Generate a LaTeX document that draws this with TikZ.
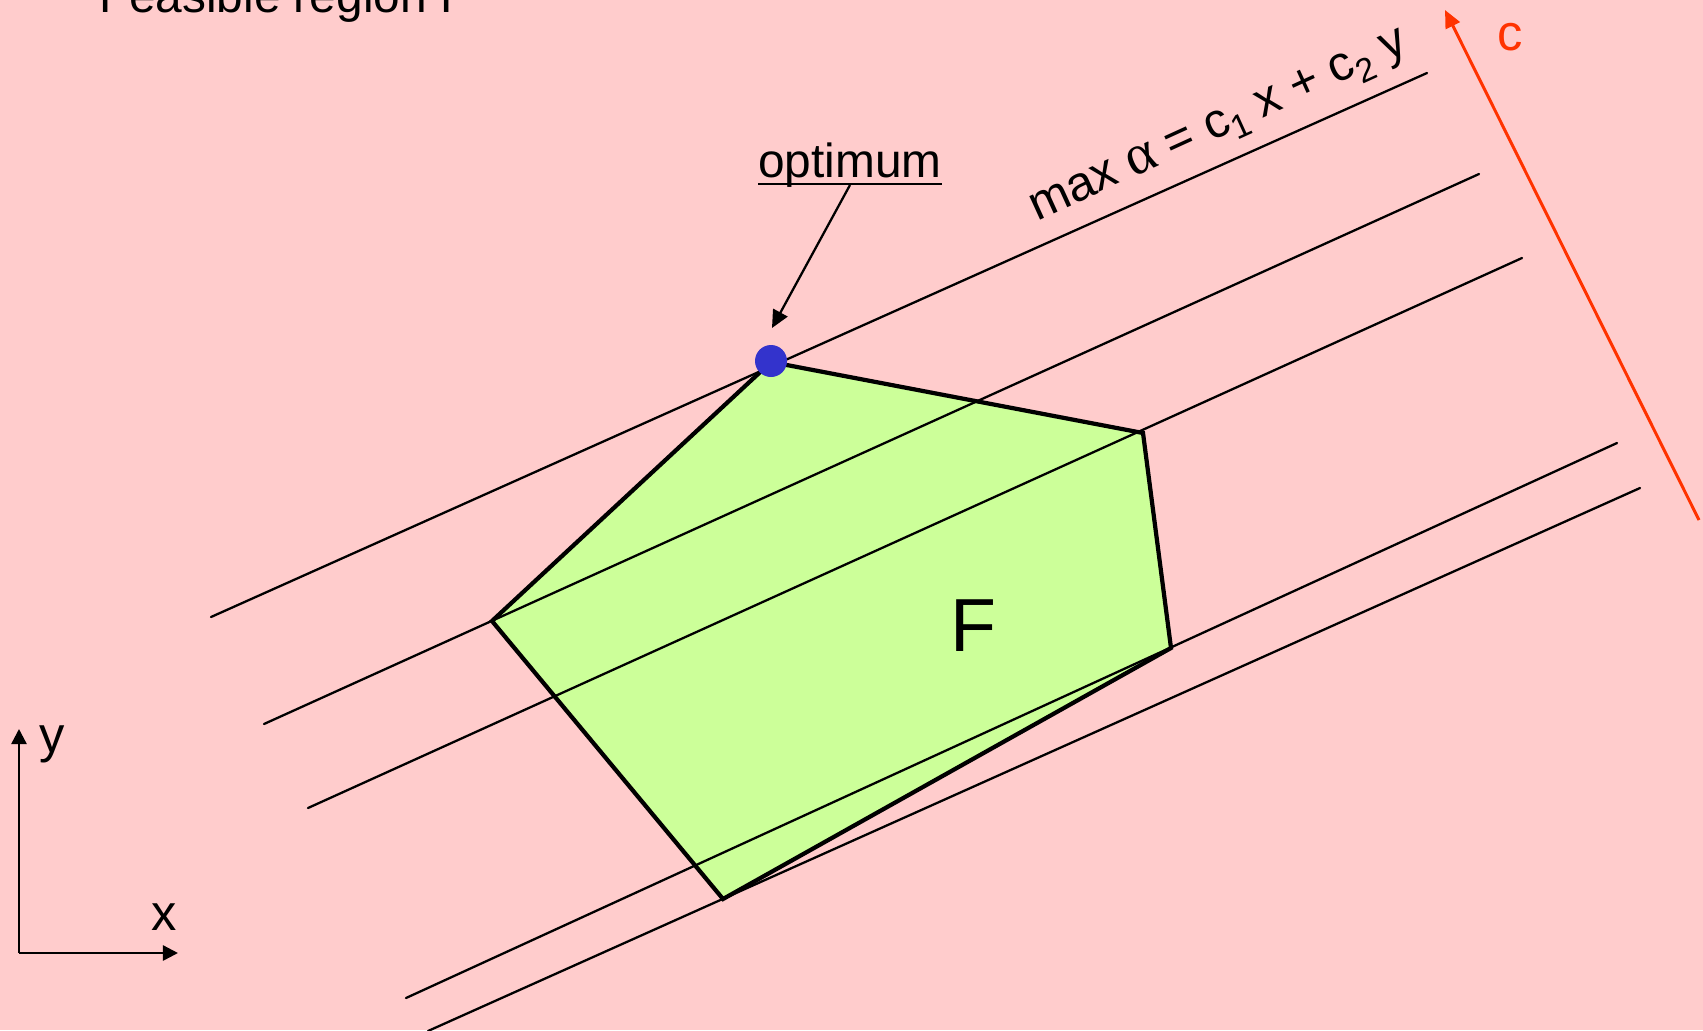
\documentclass[tikz,border=0pt]{standalone}
\usepackage{fontspec}
\setmainfont{Liberation Sans}
\newfontfamily\greekfont{Liberation Serif}
\usetikzlibrary{arrows.meta}
\definecolor{bgpink}{HTML}{FFCCCC}
\definecolor{feas}{HTML}{CCFF99}
\definecolor{optblue}{HTML}{3333CC}
\definecolor{cred}{HTML}{FF3300}
\newcommand{\lbl}{\fontsize{13.6pt}{16pt}\selectfont}
\newcommand{\objfont}{\fontsize{13.9pt}{17pt}\selectfont}
\newcommand{\subs}[1]{\raisebox{-0.4ex}{\fontsize{9.6pt}{10pt}\selectfont #1}}
\begin{document}
\begin{tikzpicture}[x=0.01cm,y=-0.01cm,
  level/.style={line width=0.65pt,line cap=round},
  border/.style={line width=1.2pt,line join=miter},
  axisarrow/.style={line width=0.7pt,-{Triangle[length=4.3pt,width=4.3pt]}},
  txt/.style={inner sep=0pt,outer sep=0pt,font=\lbl}]
\useasboundingbox (0,0) rectangle (1703,1030);
\clip (0,0) rectangle (1703,1030);
\fill[bgpink] (0,0) rectangle (1703,1030);

% title
\node[txt,anchor=base west] (title) at (100,12) {Feasible region F};

% polygon vertices
\coordinate (A) at (771,362);
\coordinate (B) at (1143,433);
\coordinate (C) at (1171,648);
\coordinate (D) at (723,899);
\coordinate (E) at (492,621);
\fill[feas] (A)--(B)--(C)--(D)--(E)--cycle;

% level lines
\coordinate (l1a) at (211,617);  \coordinate (l1b) at (1427,73);
\coordinate (l2a) at (264,724);  \coordinate (l2b) at (1479,174);
\coordinate (l3a) at (308,808);  \coordinate (l3b) at (1522,258);
\coordinate (l4a) at (406,998);  \coordinate (l4b) at (1617,443);
\coordinate (l5a) at (428,1031); \coordinate (l5b) at (1640,488);
\draw[level] (l1a) -- (l1b);
\draw[level] (l2a) -- (l2b);
\draw[level] (l3a) -- (l3b);
\draw[level] (l4a) -- (l4b);
\draw[level] (l5a) -- (l5b);

\draw[border] (A)--(B)--(C)--(D)--(E)--cycle;

% optimum point
\coordinate (dot) at (771,361);
\fill[optblue] (dot) circle[radius=16];

% F label
\node[txt,anchor=base west,font=\fontsize{21.4pt}{24pt}\selectfont] (F) at (950,651) {F};

% objective label
\node[txt,anchor=base west,rotate=24.5,font=\objfont] (obj) at (1037,221)
  {max {\greekfont\fontsize{16.2pt}{17pt}\selectfont α} = c\subs{1} x + c\subs{2} y};

% optimum label
\node[txt,anchor=base] (opt) at (850,177) {optimum};
\coordinate (ulL) at (758,184);
\coordinate (ulR) at (942,184);
\draw[line width=0.65pt] (ulL) -- (ulR);
\coordinate (optstart) at (850,185);
\coordinate (opttip) at (772,328);
\draw[line width=0.65pt,-{Triangle[length=5pt,width=4.6pt]}] (optstart) -- (opttip);

% c vector
\coordinate (cbase) at (1699,520);
\coordinate (ctip) at (1445,10);
\draw[cred,line width=0.85pt,-{Triangle[length=5pt,width=4.4pt]}] (cbase) -- (ctip);
\node[txt,anchor=base west,text=cred,font=\fontsize{14.4pt}{17pt}\selectfont] (clabel) at (1497,50) {c};

% axes
\coordinate (O) at (19,953);
\coordinate (yt) at (19,729);
\coordinate (xt) at (178,953);
\draw[axisarrow] (O) -- (yt);
\draw[axisarrow] (O) -- (xt);
\node[txt,anchor=base west,font=\fontsize{14.4pt}{17pt}\selectfont] (ylab) at (40,752) {y};
\node[txt,anchor=base west,font=\fontsize{14.4pt}{17pt}\selectfont] (xlab) at (151,930) {x};
\end{tikzpicture}
\end{document}
